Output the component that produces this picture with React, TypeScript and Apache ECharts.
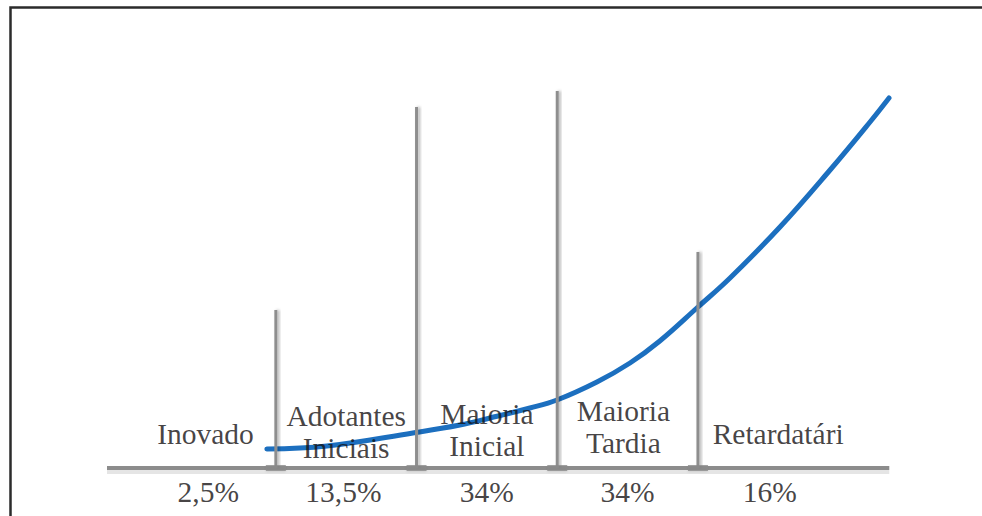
import React, { useEffect, useRef } from "react";
import * as echarts from "echarts";

// Adoption stages (segment names) and their shares
const stageNames = ["Inovado", "Adotantes\nIniciais", "Maioria\nInicial", "Maioria\nTardia", "Retardatári"];
const stageShares = ["2,5%", "13,5%", "34%", "34%", "16%"];
// horizontal centres of the stage names / shares (in axis units; boundaries at 1,2,3,4)
const nameX = [0.5, 1.5, 2.5, 3.47, 4.57];
const shareX = [0.52, 1.48, 2.5, 3.5, 4.51];

// Vertical dividers between stages and their heights
const dividerX = [1, 2, 3, 4];
const dividerH = [39.5, 90.25, 94.25, 54];

// Adoption curve
const curveX = [0.936, 1.363, 1.974, 2.308, 2.522, 2.806, 2.998, 3.282, 3.517, 3.729, 4.0, 4.228, 4.583, 4.939, 5.223, 5.358];
const curveY = [4.75, 5.5, 8.75, 10.75, 12.5, 15, 17, 21.5, 26.25, 31.75, 40.25, 47.5, 60.25, 74.5, 86.5, 92.5];

// layout: vertical centre of each name label (axis units)
const nameLift = [8.4, 9.1, 9.6, 10.25, 8.6];
const shareDrop = -6.1;

const FONT = "'Liberation Serif', 'Times New Roman', serif";
const TEXT = "#151213";

export default function App() {
  const ref = useRef<HTMLDivElement>(null);
  useEffect(() => {
    if (!ref.current) return;
    const chart = echarts.init(ref.current, undefined, { renderer: "svg" });
    const curve = curveX.map((x, i) => [x, curveY[i]]);
    const dividers = dividerX.map((x, i) => [x, dividerH[i]]);
    const names = stageNames.map((n, i) => ({ value: [nameX[i], nameLift[i]], name: n }));
    const shares = stageShares.map((n, i) => ({ value: [shareX[i], shareDrop], name: n }));
    const feet = dividerX.map((x) => [x, 0]);
    chart.setOption({
      animation: false,
      backgroundColor: "#ffffff",
      grid: { left: 107, width: 782.3, top: 68, height: 448 },
      xAxis: {
        type: "value",
        min: -0.2,
        max: 5.36,
        axisLine: { show: false },
        axisTick: { show: false },
        axisLabel: { show: false },
        splitLine: { show: false },
      },
      yAxis: {
        type: "value",
        min: -12,
        max: 100,
        show: false,
        splitLine: { show: false },
      },
      graphic: [
        {
          type: "rect",
          shape: { x: 10.5, y: 7.5, width: 1000, height: 600 },
          style: { fill: "none", stroke: "#2b2b2b", lineWidth: 2.5 },
          silent: true,
        },
      ],
      series: [
        {
          type: "line",
          data: curve,
          smooth: 0.4,
          symbol: "none",
          z: 2,
          lineStyle: { color: "#1c6fbf", width: 5, cap: "round" },
          markLine: {
            silent: true,
            symbol: "none",
            label: { show: false },
            z: 1,
            data: [
              { yAxis: -0.9, lineStyle: { type: "solid", color: "rgba(0,0,0,0.10)", width: 4 } },
              { yAxis: 0, lineStyle: { type: "solid", color: "#8c8c8c", width: 4 } },
            ],
          },
        },
        {
          type: "bar",
          data: dividers,
          barWidth: 3,
          z: 3,
          itemStyle: {
            color: "#8e8e8e",
            shadowColor: "rgba(0,0,0,0.3)",
            shadowBlur: 3,
            shadowOffsetX: 2,
          },
        },
        {
          type: "scatter",
          data: feet,
          symbol: "rect",
          symbolSize: [20, 6],
          z: 3,
          itemStyle: { color: "#8b8b8b", shadowColor: "rgba(0,0,0,0.12)", shadowBlur: 2, shadowOffsetY: 1 },
        },
        {
          type: "scatter",
          data: names,
          symbolSize: 1,
          clip: false,
          z: 5,
          itemStyle: { color: "rgba(0,0,0,0)" },
          label: {
            show: true,
            position: "inside",
            formatter: (p: any) => p.name,
            fontFamily: FONT,
            fontSize: 29.5,
            lineHeight: 32,
            color: TEXT,
          },
        },
        {
          type: "scatter",
          data: shares,
          symbolSize: 1,
          clip: false,
          z: 5,
          itemStyle: { color: "rgba(0,0,0,0)" },
          label: {
            show: true,
            position: "inside",
            formatter: (p: any) => p.name,
            fontFamily: FONT,
            fontSize: 29.5,
            color: TEXT,
          },
        },
      ],
    });
    return () => chart.dispose();
  }, []);
  return (
    <div
      ref={ref}
      style={{ position: "absolute", left: 0, top: 0, width: 982, height: 516, background: "#fff" }}
    />
  );
}
